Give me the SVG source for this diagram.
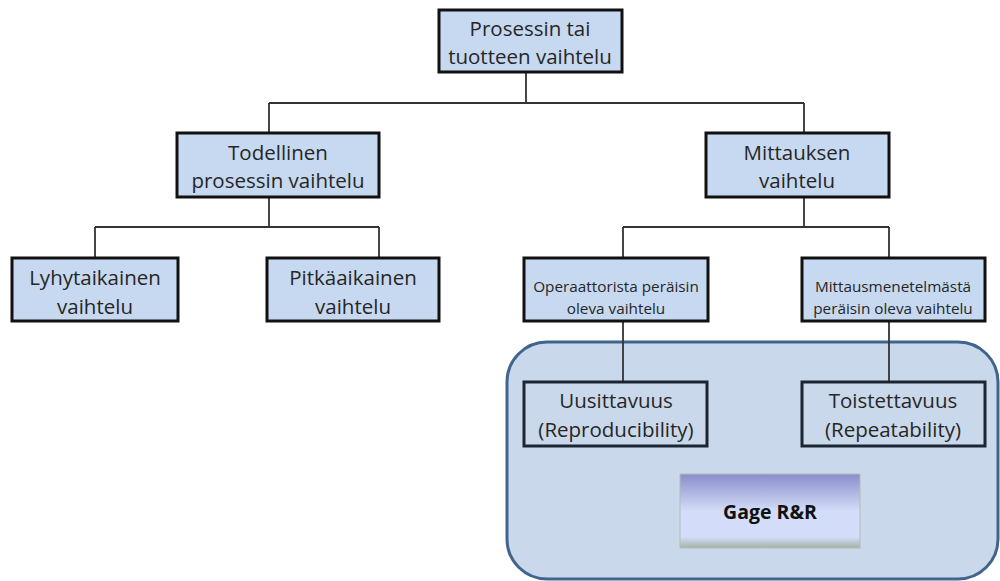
<svg xmlns="http://www.w3.org/2000/svg" width="1000" height="581" viewBox="0 0 1000 581">
<defs>
<style>
.box{fill:#c6d9f0;stroke:#111;stroke-width:3}
.obox{fill:none;stroke:#1c2533;stroke-width:3}
.t{font-family:"Open Sans","Liberation Sans",sans-serif;font-size:20.5px;fill:#262626;text-anchor:middle}
.s{font-family:"Open Sans","Liberation Sans",sans-serif;font-size:15.3px;fill:#262626;text-anchor:middle}
.b{font-family:"Open Sans","Liberation Sans",sans-serif;font-size:19.5px;font-weight:bold;fill:#111;text-anchor:middle}
.c{fill:none;stroke:#333;stroke-width:1.8}
</style>
<linearGradient id="gg" x1="0" y1="0" x2="0" y2="1">
<stop offset="0" stop-color="#8a8ecb"/>
<stop offset="0.5" stop-color="#d3ddf9"/>
<stop offset="0.85" stop-color="#d3ddf9"/>
<stop offset="1" stop-color="#a3b3a3"/>
</linearGradient>
</defs>
<g id="group-gagerr">
<rect x="507" y="342" width="491" height="237" rx="40" ry="40" fill="#c9d8ea" stroke="#41648f" stroke-width="3"/>
</g>
<g id="connectors">
<path class="c" d="M526 73V103M269 103H804M269 103V133M804 103V133"/>
<path class="c" d="M269 197V227M95 227H379M95 227V257M379 227V257"/>
<path class="c" d="M804 197V227M623 227H889M623 227V257M889 227V257"/>
<path class="c" d="M623 321V382M889 321V382"/>
</g>
<g id="n-top">
<rect class="box" x="439" y="10" width="183" height="62"/>
<text class="t" x="530" y="36">Prosessin tai</text>
<text class="t" x="530" y="64">tuotteen vaihtelu</text>
</g>
<g id="n-todellinen">
<rect class="box" x="177" y="133" width="202" height="64"/>
<text class="t" x="278" y="160">Todellinen</text>
<text class="t" x="278" y="188">prosessin vaihtelu</text>
</g>
<g id="n-mittauksen">
<rect class="box" x="706" y="133" width="183" height="64"/>
<text class="t" x="797" y="160">Mittauksen</text>
<text class="t" x="797" y="188">vaihtelu</text>
</g>
<g id="n-lyhyt">
<rect class="box" x="12" y="258" width="166" height="63"/>
<text class="t" x="95" y="285">Lyhytaikainen</text>
<text class="t" x="95" y="314">vaihtelu</text>
</g>
<g id="n-pitka">
<rect class="box" x="267" y="258" width="172" height="63"/>
<text class="t" x="353" y="285">Pitkäaikainen</text>
<text class="t" x="353" y="314">vaihtelu</text>
</g>
<g id="n-operaattori">
<rect class="box" x="524" y="258" width="184" height="63"/>
<text class="s" x="616" y="292">Operaattorista peräisin</text>
<text class="s" x="616" y="314">oleva vaihtelu</text>
</g>
<g id="n-mittausmenetelma">
<rect class="box" x="802" y="258" width="183" height="63"/>
<text class="s" x="893" y="292">Mittausmenetelmästä</text>
<text class="s" x="893" y="314">peräisin oleva vaihtelu</text>
</g>
<g id="n-uusittavuus">
<rect class="obox" x="524" y="382" width="183" height="64"/>
<text class="t" x="616" y="408">Uusittavuus</text>
<text class="t" x="616" y="437">(Reproducibility)</text>
</g>
<g id="n-toistettavuus">
<rect class="obox" x="802" y="382" width="183" height="64"/>
<text class="t" x="893" y="408">Toistettavuus</text>
<text class="t" x="893" y="437">(Repeatability)</text>
</g>
<g id="n-gage">
<rect x="680" y="474" width="180" height="74" fill="url(#gg)" stroke="#b8b8b8" stroke-width="1"/>
<text class="b" x="770" y="519">Gage R&amp;R</text>
</g>
</svg>
